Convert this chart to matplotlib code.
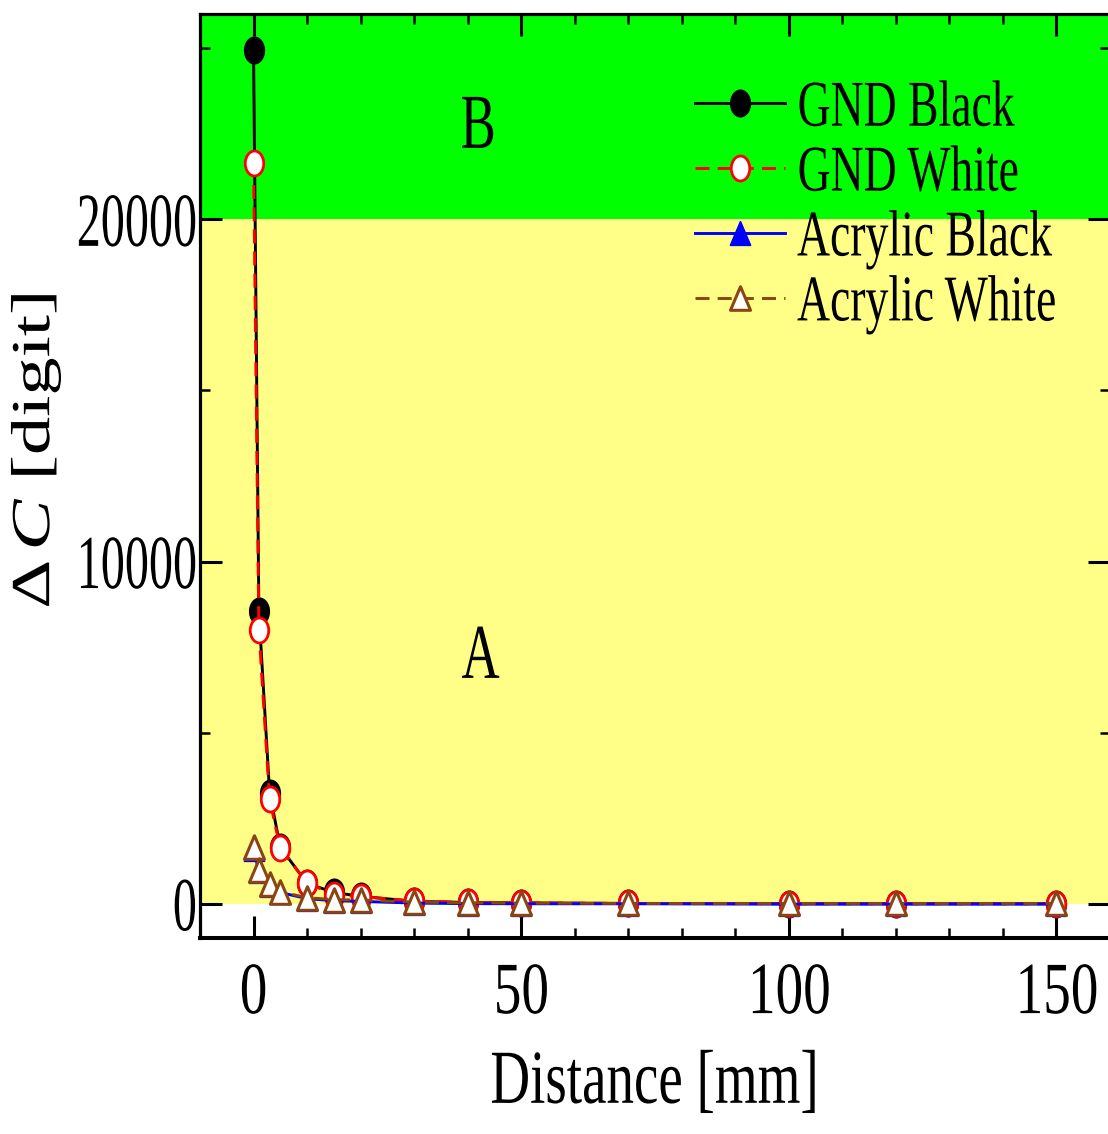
import matplotlib
matplotlib.use("Agg")
import matplotlib.pyplot as plt
from matplotlib.path import Path
from matplotlib.markers import MarkerStyle
from matplotlib.transforms import Affine2D
from matplotlib.patheffects import AbstractPathEffect
from matplotlib.ticker import MultipleLocator
from matplotlib.font_manager import FontProperties

plt.rcParams['font.family'] = ['Liberation Serif', 'DejaVu Serif']
plt.rcParams['mathtext.fontset'] = 'custom'
plt.rcParams['mathtext.rm'] = 'Liberation Serif'
plt.rcParams['mathtext.it'] = 'Liberation Serif:italic'

# ---- data -------------------------------------------------------------
distance_mm = [0, 1, 3, 5, 10, 15, 20, 30, 40, 50, 70, 100, 120, 150]
gnd_black = [24950, 8550, 3250, 1650, 600, 330, 220, 70, 40, 25, 10, 5, 5, 5]
gnd_white = [21650, 8000, 3050, 1620, 610, 270, 210, 80, 40, 30, 10, 0, 0, 0]
acrylic_black = [1600, 950, 540, 330, 150, 90, 70, 20, 5, 0, 0, -10, -10, -10]
acrylic_white = [1650, 1000, 570, 350, 180, 120, 110, 50, 30, 20, 10, 10, 10, 10]

series_labels = ['GND Black', 'GND White', 'Acrylic Black', 'Acrylic White']
x_ticks = [0, 50, 100, 150]
y_ticks = [0, 10000, 20000]
region_bounds = [0, 20000, 26000]
region_names = ['A', 'B']


class Condense(AbstractPathEffect):
    """Narrow glyph outlines horizontally about a fixed anchor."""

    def __init__(self, sx, anchor='center'):
        super().__init__()
        self.sx = sx
        self.anchor = anchor

    def draw_path(self, renderer, gc, tpath, affine, rgbFace=None):
        bb = tpath.get_extents(affine)
        if self.anchor == 'left':
            x0 = bb.x0
        elif self.anchor == 'right':
            x0 = bb.x1
        else:
            x0 = 0.5 * (bb.x0 + bb.x1)
        squeeze = Affine2D().translate(-x0, 0).scale(self.sx, 1).translate(x0, 0)
        renderer.draw_path(gc, tpath, affine + squeeze, rgbFace)


# tall, narrow marker shapes
ellipse_path = Affine2D().scale(0.74, 1.0).transform_path(Path.unit_circle())
tri_path = Path([(0, 1), (-0.85, -1), (0.85, -1), (0, 1)],
                [Path.MOVETO, Path.LINETO, Path.LINETO, Path.CLOSEPOLY])
ellipse_marker = MarkerStyle(ellipse_path)
tri_marker = MarkerStyle(tri_path, joinstyle='miter')

fig = plt.figure(figsize=(11.08, 11.34), dpi=100)
ax = fig.add_axes([200 / 1108, 196 / 1134, 910 / 1108, 924 / 1134])
ax.set_xlim(-10, 160)
ax.set_ylim(-1000, 26000)

# shaded regions
ax.axhspan(region_bounds[0], region_bounds[1], color='#ffff88', lw=0, zorder=0)
ax.axhspan(region_bounds[1], region_bounds[2], color='#00ff00', lw=0, zorder=0)

lw = 2.1
ax.plot(distance_mm, gnd_black, color='black', lw=lw, ls='-',
        marker=ellipse_marker, ms=19, mfc='black', mec='black', mew=1.2,
        label=series_labels[0], zorder=3)
ax.plot(distance_mm, gnd_white, color='#ff0000', lw=lw, ls=(0, (4.8, 2.8)),
        marker=ellipse_marker, ms=18, mfc='white', mec='#ff0000', mew=2.0,
        label=series_labels[1], zorder=4)
ax.plot(distance_mm, acrylic_black, color='#0000ff', lw=lw, ls='-',
        marker=tri_marker, ms=17, mfc='#0000ff', mec='#0000ff', mew=1.2,
        label=series_labels[2], zorder=5)
ax.plot(distance_mm, acrylic_white, color='#8b4513', lw=lw, ls=(0, (4.8, 2.8)),
        marker=tri_marker, ms=17, mfc='white', mec='#8b4513', mew=2.2,
        label=series_labels[3], zorder=6)

# region labels
ax.text(42.0, 22090, region_names[1], ha='center', va='baseline', fontsize=56,
        path_effects=[Condense(0.68)], zorder=7)
ax.text(42.4, 6600, region_names[0], ha='center', va='baseline', fontsize=56,
        path_effects=[Condense(0.68)], zorder=7)

# ticks
ax.set_xticks(x_ticks, labels=[str(v) for v in x_ticks])
ax.set_yticks(y_ticks, labels=[str(v) for v in y_ticks])
ax.xaxis.set_minor_locator(MultipleLocator(10))
ax.yaxis.set_minor_locator(MultipleLocator(5000))
ax.tick_params(which='both', direction='in', top=True, right=True)
ax.tick_params(which='major', length=15.5, width=2.2)
ax.tick_params(which='minor', length=7.5, width=1.8)
ax.tick_params(axis='x', which='major', pad=17, labelsize=53)
ax.tick_params(axis='y', which='major', pad=1.5, labelsize=55)
for lbl in ax.get_xticklabels():
    lbl.set_path_effects([Condense(0.75)])
for lbl in ax.get_yticklabels():
    lbl.set_path_effects([Condense(0.63, 'right')])

for side in ['left', 'top', 'right']:
    ax.spines[side].set_linewidth(2.3)
ax.spines['bottom'].set_linewidth(2.9)

# axis titles
ax.set_xlabel('Distance [mm]', fontsize=55, path_effects=[Condense(0.72)])
ax.xaxis.set_label_coords(0.5, -0.121)
ax.set_ylabel(r'$\Delta\,C$ [digit]', fontsize=55, path_effects=[Condense(0.72)])
ax.yaxis.label.set_verticalalignment('center')
ax.yaxis.set_label_coords(-0.180, 0.527)

leg = ax.legend(loc='upper left', bbox_to_anchor=((695 - 200) / 910, 0.9286),
                frameon=False, handlelength=1.38, handletextpad=0.18,
                labelspacing=0.08, borderpad=0, borderaxespad=0,
                prop=FontProperties(family='Liberation Serif', size=47),
                numpoints=1)
for t in leg.get_texts():
    t.set_path_effects([Condense(0.70, 'left')])

fig.savefig('out.png', dpi=100)
